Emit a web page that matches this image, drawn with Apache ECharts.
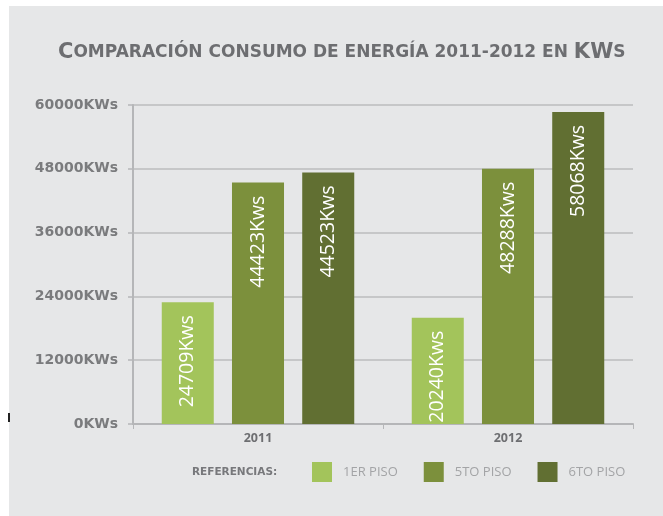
<!DOCTYPE html>
<html>
<head>
<meta charset="utf-8">
<script src="https://cdn.jsdelivr.net/npm/echarts@6/dist/echarts.min.js"></script>
<style>
    body { margin: 0; background: #fff; }
    #chart { width: 663px; height: 516px; }
</style>
</head>
<body>
<div id="chart"></div>
<script>
    var categories = ['2011', '2012'];
    var seriesNames = ['1ER PISO', '5TO PISO', '6TO PISO'];
    // bar heights as drawn in the picture
    var piso1 = [22900, 20000];
    var piso5 = [45400, 48000];
    var piso6 = [47300, 58700];
    // the printed labels on the bars
    var piso1Labels = ['24709Kws', '20240Kws'];
    var piso5Labels = ['44423Kws', '48288Kws'];
    var piso6Labels = ['44523Kws', '58068Kws'];
    var colors = ['#a3c45b', '#7c903c', '#616f32'];

    function barSeries(name, data, labels, color) {
        return {
            name: name,
            type: 'bar',
            data: data,
            itemStyle: { color: color },
            barGap: '35%',
            barCategoryGap: '23%',
            label: {
                show: true,
                position: 'insideTop',
                rotate: 90,
                align: 'right',
                verticalAlign: 'middle',
                distance: 13,
                color: '#fff',
                fontSize: 19.5,
                fontFamily: 'Open Sans',
                formatter: function (p) { return labels[p.dataIndex]; }
            }
        };
    }

    var chart = echarts.init(document.getElementById('chart'));
    chart.setOption({
        backgroundColor: '#e6e7e8',
        animation: false,
        title: {
            left: 53,
            top: 37,
            text: '{b|C}{s|OMPARACIÓN CONSUMO DE ENERGÍA 2011-2012 EN }{b|KW}{s|S}',
            textStyle: {
                rich: {
                    b: { fontSize: 21, fontWeight: 'bold', color: '#6d6e71', fontFamily: 'DejaVu Sans' },
                    s: { fontSize: 17, fontWeight: 'bold', color: '#6d6e71', fontFamily: 'DejaVu Sans' }
                }
            }
        },
        legend: {
            left: 307,
            top: 457,
            itemWidth: 20,
            itemHeight: 20,
            itemGap: 26,
            icon: 'rect',
            data: seriesNames,
            textStyle: {
                color: '#a3a4a6',
                fontSize: 13,
                fontFamily: 'Open Sans',
                padding: [0, 0, 0, 6]
            }
        },
        graphic: [
            { type: 'rect', shape: { x: 0, y: 0, width: 663, height: 6 }, style: { fill: '#fff' }, silent: true },
            { type: 'rect', shape: { x: 0, y: 0, width: 9, height: 516 }, style: { fill: '#fff' }, silent: true },
            { type: 'rect', shape: { x: 8, y: 413, width: 2, height: 9 }, style: { fill: '#222' }, silent: true },
            {
                type: 'text',
                left: 192,
                top: 467,
                style: {
                    text: 'REFERENCIAS:',
                    fill: '#77787b',
                    font: 'bold 10.5px "DejaVu Sans"'
                }
            }
        ],
        grid: {
            left: 133,
            right: 30,
            top: 105,
            bottom: 92
        },
        xAxis: {
            type: 'category',
            data: categories,
            axisLine: { lineStyle: { color: '#b5b6b8', width: 2 } },
            axisTick: { show: true, length: 5, lineStyle: { color: '#b5b6b8' } },
            axisLabel: {
                margin: 8,
                color: '#6d6e71',
                fontWeight: 'bold',
                fontSize: 12.5,
                fontFamily: 'Open Sans'
            }
        },
        yAxis: {
            type: 'value',
            min: 0,
            max: 60000,
            interval: 12000,
            axisLine: { show: true, lineStyle: { color: '#b5b6b8', width: 2 } },
            axisTick: { show: true, length: 5, lineStyle: { color: '#b5b6b8', width: 1.5 } },
            splitLine: { lineStyle: { color: '#bbbcbe', width: 1.5 } },
            axisLabel: {
                margin: 15,
                formatter: function (v) { return v + 'KWs'; },
                color: '#7a7b7d',
                fontWeight: 'bold',
                fontSize: 14,
                fontFamily: 'DejaVu Sans'
            }
        },
        series: [
            barSeries(seriesNames[0], piso1, piso1Labels, colors[0]),
            barSeries(seriesNames[1], piso5, piso5Labels, colors[1]),
            barSeries(seriesNames[2], piso6, piso6Labels, colors[2])
        ]
    });
</script>
</body>
</html>
